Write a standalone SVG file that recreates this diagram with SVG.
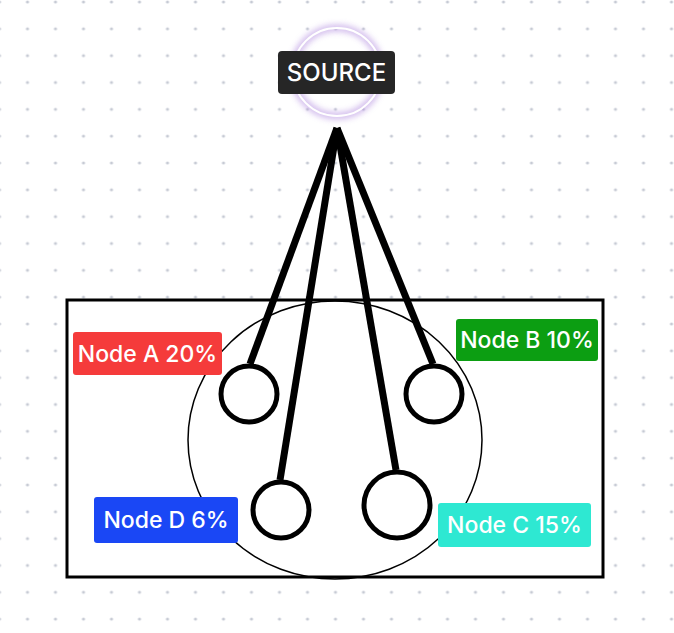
<svg xmlns="http://www.w3.org/2000/svg" width="674" height="633" viewBox="0 0 674 633">
<defs>
<pattern id="dots" x="-0.5" y="2" width="28" height="26.83" patternUnits="userSpaceOnUse">
<circle cx="0" cy="0" r="1.6" fill="#c6cad4"/>
<circle cx="28" cy="0" r="1.6" fill="#c6cad4"/>
<circle cx="0" cy="26.83" r="1.6" fill="#c6cad4"/>
<circle cx="28" cy="26.83" r="1.6" fill="#c6cad4"/>
</pattern>
<filter id="glow" x="-50%" y="-50%" width="200%" height="200%">
<feGaussianBlur stdDeviation="3"/>
</filter>
</defs>
<style>
.lbl{font-family:Inter,"Liberation Sans",sans-serif;font-size:23px;font-weight:500;fill:#ffffff;text-anchor:middle;dominant-baseline:central}
.node{fill:#ffffff;stroke:#000000;stroke-width:5}
.edge{stroke:#000000;stroke-width:7;stroke-linecap:butt;fill:none}
</style>
<rect x="0" y="0" width="674" height="633" fill="#ffffff"/>
<rect x="0" y="0" width="674" height="633" fill="url(#dots)"/>

<g id="container">
<rect x="67" y="300" width="536" height="277" fill="#ffffff" stroke="#000000" stroke-width="3"/>
<ellipse cx="335" cy="440" rx="147" ry="139" fill="none" stroke="#000000" stroke-width="1.5"/>
</g>

<g id="connectors">
<line class="edge" x1="337" y1="128" x2="250" y2="364"/>
<line class="edge" x1="337" y1="128" x2="280" y2="480"/>
<line class="edge" x1="337" y1="128" x2="396" y2="470"/>
<line class="edge" x1="337" y1="128" x2="433" y2="364"/>
</g>

<g id="node-a-circle"><circle class="node" cx="249" cy="394" r="28"/></g>
<g id="node-b-circle"><circle class="node" cx="434" cy="394" r="28"/></g>
<g id="node-d-circle"><circle class="node" cx="281" cy="510" r="28"/></g>
<g id="node-c-circle"><circle class="node" cx="397" cy="505" r="33"/></g>

<g id="source">
<circle cx="337" cy="72" r="44" fill="none" stroke="#b48fe0" stroke-width="6" filter="url(#glow)" opacity="0.7"/>
<circle cx="337" cy="72" r="44" fill="none" stroke="#ffffff" stroke-width="2"/>
<rect x="278" y="51" width="117" height="43" rx="4" fill="#262626"/>
<text class="lbl" x="336.5" y="72.5" style="font-size:24px">SOURCE</text>
</g>

<g id="label-a">
<rect x="73" y="332" width="149" height="43" rx="3" fill="#f53b3b"/>
<text class="lbl" x="147.5" y="353.5">Node A 20%</text>
</g>
<g id="label-b">
<rect x="456" y="319" width="142" height="42" rx="3" fill="#0c9e12"/>
<text class="lbl" x="527" y="340">Node B 10%</text>
</g>
<g id="label-d">
<rect x="94" y="497" width="144" height="46" rx="3" fill="#1a47f5"/>
<text class="lbl" x="166" y="520">Node D 6%</text>
</g>
<g id="label-c">
<rect x="438" y="503" width="153" height="44" rx="3" fill="#2ee8d2"/>
<text class="lbl" x="514.5" y="525">Node C 15%</text>
</g>
</svg>
